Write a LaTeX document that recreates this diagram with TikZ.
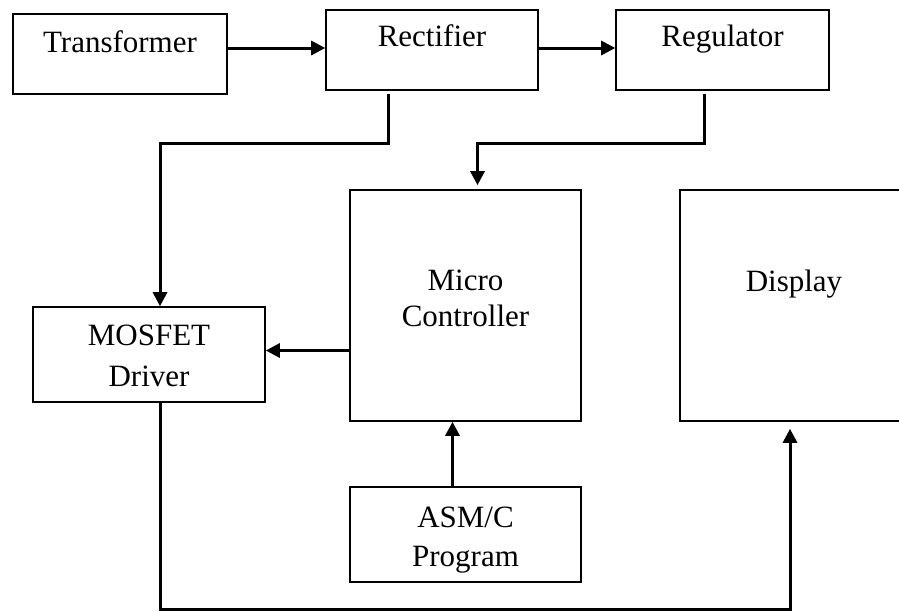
\documentclass[tikz,border=0pt]{standalone}
\usepackage{fontspec}
\setmainfont{Liberation Serif}
\usetikzlibrary{arrows.meta}
\tikzset{
  blk/.style={draw, line width=1.6pt, inner sep=0pt},
  lbl/.style={font=\fontsize{31}{39}\selectfont, align=center, inner sep=0pt},
  conn/.style={line width=3pt, -{Triangle[length=14pt,width=14pt]}}
}
\begin{document}
\begin{tikzpicture}[x=1pt,y=-1pt]
\useasboundingbox (0,0) rectangle (899,611);
% supply chain
\node[blk, minimum width=214pt, minimum height=80pt,
  label={[lbl,anchor=base,yshift=-39pt]north:Transformer}] (trf) at (120,54) {};
\node[blk, minimum width=212pt, minimum height=80pt,
  label={[lbl,anchor=base,yshift=-37pt]north:Rectifier}] (rec) at (432,50) {};
\node[blk, minimum width=213pt, minimum height=80pt,
  label={[lbl,anchor=base,yshift=-37pt]north:Regulator}] (reg) at (722.5,50) {};
% control part
\node[blk, minimum width=231pt, minimum height=231pt,
  label={[lbl,anchor=base,yshift=-137pt,font=\fontsize{31}{36}\selectfont]north:Micro\\Controller}] (mcu) at (465.5,305.5) {};
\node[blk, minimum width=228pt, minimum height=231pt,
  label={[lbl,anchor=base,yshift=-102pt]north:Display}] (dsp) at (794,305.5) {};
\node[blk, minimum width=232pt, minimum height=95pt,
  label={[lbl,anchor=base,yshift=-80pt,font=\fontsize{31}{41}\selectfont]north:MOSFET\\Driver}] (mos) at (149,354.5) {};
\node[blk, minimum width=231pt, minimum height=95pt,
  label={[lbl,anchor=base,yshift=-80pt]north:ASM/C\\Program}] (asm) at (465.5,534.5) {};
% connectors
\draw[conn] ([yshift=6pt]trf.east) -- ([yshift=6pt]trf.east -| rec.west);
\draw[conn] ([yshift=2pt]rec.east) -- ([yshift=2pt]rec.east -| reg.west);
\draw[conn] ([xshift=-44pt,yshift=-3pt]rec.south) -- ++(0,50) -| ([xshift=11pt]mos.north);
\draw[conn] ([xshift=-18pt,yshift=-3pt]reg.south) -- ++(0,50) -| ([xshift=12pt,yshift=4pt]mcu.north);
\draw[conn] ([yshift=4pt]mos.east -| mcu.west) -- ([yshift=4pt]mos.east);
\draw[conn] ([xshift=-13pt]asm.north) -- ([xshift=-13pt]mcu.south);
\draw[conn] ([xshift=11pt]mos.south) -- ++(0,207) -| ([xshift=-4pt,yshift=-7pt]dsp.south);
\end{tikzpicture}
\end{document}
